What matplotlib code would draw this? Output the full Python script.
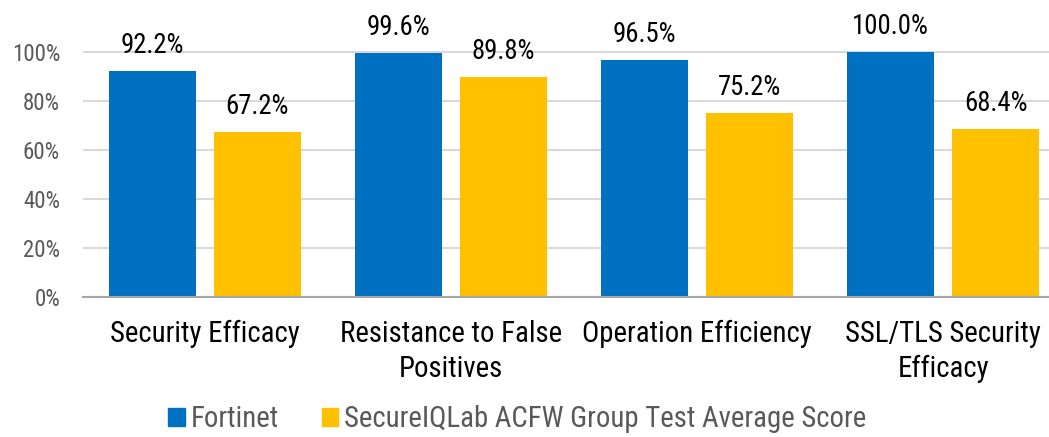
import matplotlib
matplotlib.use('Agg')
from matplotlib import pyplot as plt
from matplotlib.patches import Patch
import numpy as np

categories = ['Security Efficacy', 'Resistance to False\nPositives',
              'Operation Efficiency', 'SSL/TLS Security\nEfficacy']
fortinet = [92.2, 99.6, 96.5, 100.0]
group_avg = [67.2, 89.8, 75.2, 68.4]
series_names = ['Fortinet', 'SecureIQLab ACFW Group Test Average Score']
y_ticks = [0, 20, 40, 60, 80, 100]

BLUE = '#0070C0'
YELLOW = '#FFC000'

plt.rcParams['font.family'] = ['Roboto Condensed', 'DejaVu Sans Condensed', 'Roboto', 'DejaVu Sans']

fig = plt.figure(figsize=(10.49, 4.37), dpi=100)
ax = fig.add_axes([83 / 1049, 140 / 437, 966 / 1049, 287 / 437])

x = np.arange(len(categories))
width = 0.354
offset = 0.213
bars_a = ax.bar(x - offset, fortinet, width, color=BLUE, zorder=3)
bars_b = ax.bar(x + offset, group_avg, width, color=YELLOW, zorder=3)

for bars, vals in ((bars_a, fortinet), (bars_b, group_avg)):
    for b, v in zip(bars, vals):
        ax.annotate('{:.1f}%'.format(v), (b.get_x() + b.get_width() / 2, v),
                    xytext=(0, 13), textcoords='offset points',
                    ha='center', va='baseline', fontsize=19.3, color='black')

ax.set_xlim(-0.496, 3.43)
ax.set_ylim(0, 117.1)
ax.set_yticks(y_ticks)
ax.set_yticklabels(['{}%'.format(t) for t in y_ticks], fontsize=16.5, color='#595959')
ax.set_xticks(x)
ax.set_xticklabels(categories, fontsize=20.7, color='black', linespacing=1.32)
ax.tick_params(axis='both', length=0)
ax.tick_params(axis='x', pad=16.5)
ax.tick_params(axis='y', pad=16.5)
ax.grid(axis='y', color='#d9d9d9', linewidth=1.5, zorder=0)
for s in ('top', 'right', 'left'):
    ax.spines[s].set_visible(False)
ax.spines['bottom'].set_color('#a6a6a6')
ax.spines['bottom'].set_linewidth(1.5)
ax.spines['bottom'].set_zorder(4)

handles = [Patch(color=BLUE), Patch(color=YELLOW)]
leg = fig.legend(handles, series_names, loc='lower center', bbox_to_anchor=(0.493, -0.05),
                 ncol=2, frameon=False, fontsize=20.7, handlelength=0.58, handleheight=0.58,
                 handletextpad=0.2, columnspacing=1.5)
for t in leg.get_texts():
    t.set_color('#595959')

fig.savefig('out.png', dpi=100)
